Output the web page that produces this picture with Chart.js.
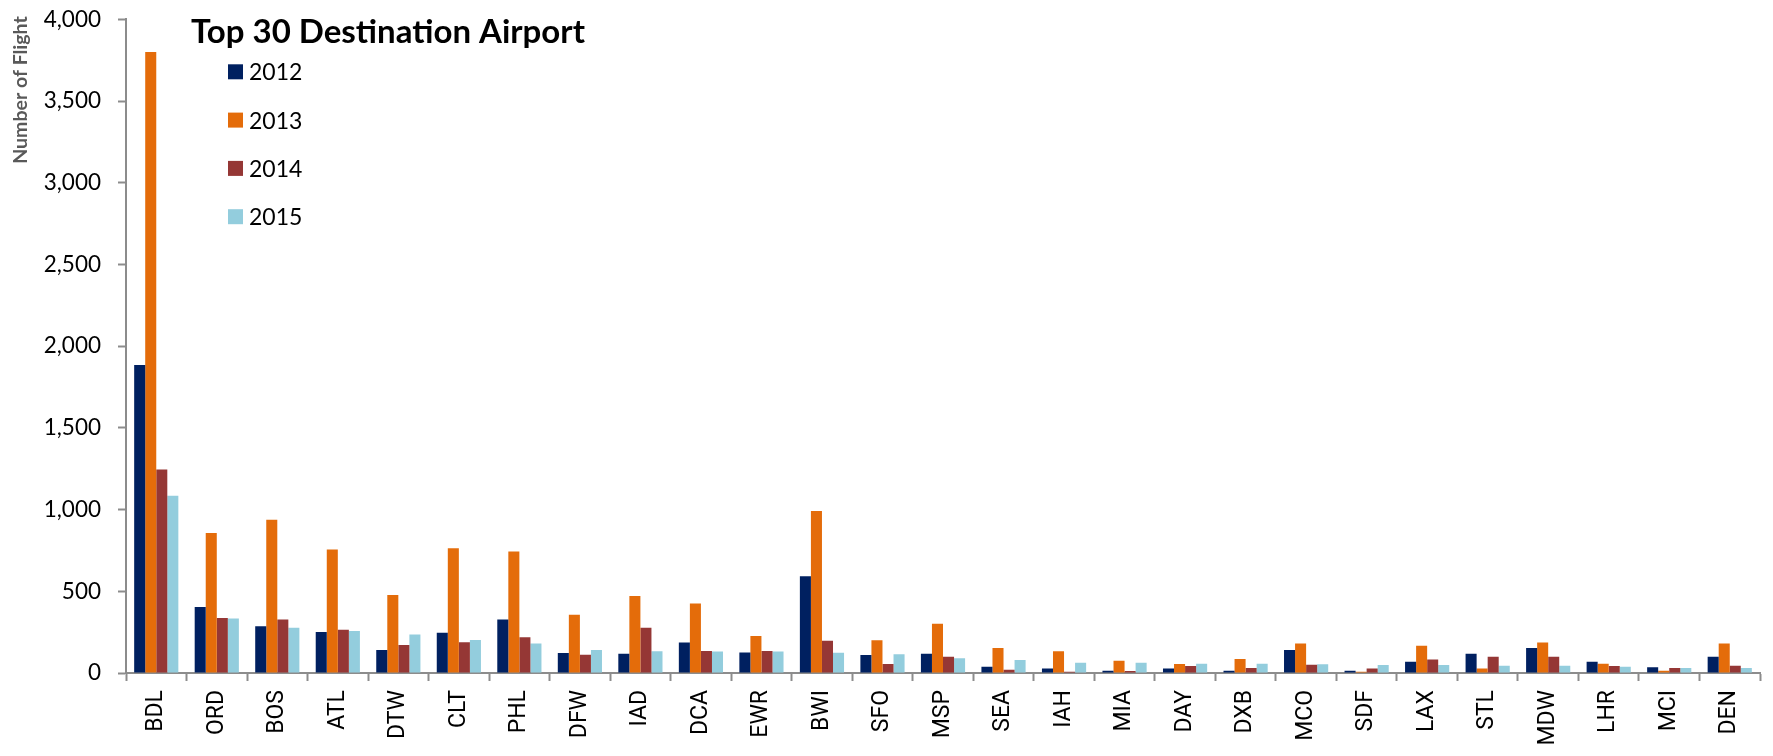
<!DOCTYPE html>
<html>
<head>
<meta charset="utf-8">
<title>Top 30 Destination Airport</title>
<script src="https://cdn.jsdelivr.net/npm/chart.js@4.4.1/dist/chart.umd.min.js"></script>
<style>
  html, body { margin: 0; padding: 0; background: #ffffff; }
  #wrap { width: 1773px; height: 756px; position: relative; }
</style>
</head>
<body>
<div id="wrap"><canvas id="chart" width="1773" height="756"></canvas></div>
<script>
// Destination airports, in ranked order
const airports = ["BDL", "ORD", "BOS", "ATL", "DTW", "CLT", "PHL", "DFW", "IAD", "DCA",
                  "EWR", "BWI", "SFO", "MSP", "SEA", "IAH", "MIA", "DAY", "DXB", "MCO",
                  "SDF", "LAX", "STL", "MDW", "LHR", "MCI", "DEN"];

// Number of flights per year
const flights2012 = [1885, 404, 286, 251, 141, 247, 328, 122, 118, 186,
                     126, 592, 110, 118, 39, 27, 14, 27, 14, 141,
                     14, 69, 118, 153, 69, 35, 100];
const flights2013 = [3800, 857, 938, 755, 477, 763, 743, 357, 471, 426,
                     226, 991, 200, 302, 153, 133, 75, 55, 86, 180,
                     8, 167, 27, 186, 57, 14, 180];
const flights2014 = [1245, 337, 328, 265, 171, 188, 218, 112, 277, 135,
                     135, 198, 55, 100, 20, 8, 12, 43, 31, 51,
                     27, 82, 100, 100, 43, 31, 45];
const flights2015 = [1085, 333, 277, 257, 235, 202, 180, 141, 133, 131,
                     131, 124, 114, 90, 80, 63, 63, 57, 57, 53,
                     49, 49, 45, 45, 39, 31, 31];

const years = ["2012", "2013", "2014", "2015"];
const yTicks = [0, 500, 1000, 1500, 2000, 2500, 3000, 3500, 4000];

const chartTitle = "Top 30 Destination Airport";
const yAxisTitle = "Number of Flight";

const palette = ["#002060", "#E46C0A", "#953735", "#93CDDD"];
const seriesValues = [flights2012, flights2013, flights2014, flights2015];

const axisGray = "#8c8c8c";

// Title, legend and rotated axis caption drawn inside the canvas
const annotations = {
  id: "annotations",
  afterDraw(chart) {
    const ctx = chart.ctx;
    ctx.save();

    ctx.fillStyle = "#000000";
    ctx.font = "bold 33px Lato";
    ctx.textAlign = "left";
    ctx.textBaseline = "alphabetic";
    ctx.fillText(chartTitle, 191, 43);

    ctx.font = "23px Lato";
    ctx.textBaseline = "middle";
    chart.data.datasets.forEach((ds, i) => {
      const cy = 71.8 + i * 48.3;
      ctx.fillStyle = ds.backgroundColor;
      ctx.fillRect(228, cy - 7.5, 15, 15);
      ctx.fillStyle = "#000000";
      ctx.fillText(ds.label, 249, cy + 1);
    });

    ctx.translate(27, 90);
    ctx.rotate(-Math.PI / 2);
    ctx.fillStyle = "#595959";
    ctx.font = "bold 19.5px Lato";
    ctx.textAlign = "center";
    ctx.textBaseline = "alphabetic";
    ctx.fillText(yAxisTitle, 0, 0);

    ctx.restore();
  }
};

new Chart(document.getElementById("chart"), {
  type: "bar",
  data: {
    labels: airports,
    datasets: years.map((y, i) => ({
      label: y,
      data: seriesValues[i],
      backgroundColor: palette[i],
      borderWidth: 0,
      barPercentage: 1.0,
      categoryPercentage: 0.73
    }))
  },
  options: {
    responsive: false,
    animation: false,
    layout: { padding: { left: 0, right: 13, top: 19.3, bottom: 0 } },
    plugins: {
      legend: { display: false },
      title: { display: false },
      tooltip: { enabled: false }
    },
    scales: {
      x: {
        offset: true,
        grid: {
          offset: true,
          drawOnChartArea: false,
          drawTicks: true,
          tickLength: 8,
          tickWidth: 2,
          tickColor: axisGray
        },
        border: { color: axisGray, width: 2 },
        ticks: {
          autoSkip: false,
          minRotation: 90,
          maxRotation: 90,
          padding: 9,
          color: "#000000",
          font: { family: "Roboto", size: 23 }
        },
        afterFit(scale) {
          scale.height = 83;
          scale.paddingLeft = 0;
          scale.paddingRight = 0;
        }
      },
      y: {
        min: 0,
        max: 4000,
        afterBuildTicks(scale) { scale.ticks = yTicks.map(v => ({ value: v })); },
        grid: {
          drawOnChartArea: false,
          drawTicks: true,
          tickLength: 8,
          tickWidth: 2,
          tickColor: axisGray
        },
        border: { color: axisGray, width: 2 },
        ticks: {
          padding: 17,
          color: "#000000",
          font: { family: "Lato", size: 22.5 },
          callback: v => v.toLocaleString("en-US")
        },
        afterFit(scale) {
          scale.width = 126;
          scale.paddingTop = 0;
          scale.paddingBottom = 0;
        }
      }
    }
  },
  plugins: [annotations]
});
</script>
</body>
</html>
